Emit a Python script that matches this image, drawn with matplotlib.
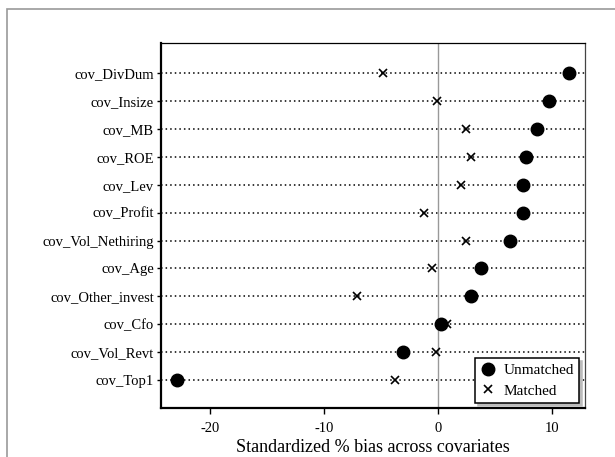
import matplotlib
matplotlib.use("Agg")
from matplotlib import pyplot as plt
from matplotlib.patches import Rectangle

plt.rcParams["font.family"] = ["Liberation Serif", "DejaVu Serif"]

#data area
covariates = ["cov_DivDum", "cov_Insize", "cov_MB", "cov_ROE", "cov_Lev", "cov_Profit",
              "cov_Vol_Nethiring", "cov_Age", "cov_Other_invest", "cov_Cfo", "cov_Vol_Revt", "cov_Top1"]
unmatched = [11.5, 9.7, 8.7, 7.7, 7.5, 7.5, 6.3, 3.8, 2.9, 0.3, -3.1, -22.9]
matched = [-4.8, -0.1, 2.5, 2.9, 2.0, -1.2, 2.5, -0.5, -7.1, 0.8, -0.2, -3.8]
xticks = [-20, -10, 0, 10]

fig = plt.figure(figsize=(6.15, 4.57), dpi=100)
ax = fig.add_axes([161/615, 1-408/457, (585-161)/615, (408-43)/457])

# outer frame of the original graph region
fig.patches.append(Rectangle((7/615, -0.1), 1.2, 1-9/457+0.1, transform=fig.transFigure,
                             fill=False, edgecolor="#999999", linewidth=1.2))

ypos = list(range(len(covariates)))[::-1]
for y in ypos:
  ax.axhline(y, color="black", linestyle=(0, (1, 2)), linewidth=1.1, zorder=1)

ax.axvline(0, color="#999999", linewidth=1.0, zorder=1)

ax.plot(unmatched, ypos, "o", color="black", markersize=9, label="Unmatched", zorder=3)
ax.plot(matched, ypos, "x", color="black", markersize=6, markeredgewidth=1.2, label="Matched", zorder=3)

ax.set_xlim(-24.3, 12.9)
ax.set_ylim(-1.0, 12.075)
ax.set_yticks(ypos)
ax.set_yticklabels(covariates, fontsize=10.5)
ax.set_xticks(xticks)
ax.set_xticklabels([str(v) for v in xticks], fontsize=10.5)
ax.tick_params(axis="x", length=4, width=1, pad=6)
ax.tick_params(axis="y", length=3, width=1, pad=2)
ax.set_xlabel("Standardized % bias across covariates", fontsize=13, labelpad=3)

ax.spines["left"].set_linewidth(1.6)
ax.spines["bottom"].set_linewidth(1.6)
ax.spines["top"].set_linewidth(0.9)
ax.spines["right"].set_linewidth(0.9)
ax.spines["right"].set_color("#444444")

leg = ax.legend(loc="lower right", fontsize=11, frameon=True, fancybox=False,
                edgecolor="black", framealpha=1, borderpad=0.35, handletextpad=0.5,
                handlelength=1.0, labelspacing=0.45, borderaxespad=0,
                bbox_to_anchor=(0.986, 0.014),
                shadow={"color": "#bbbbbb", "alpha": 1})
leg.get_frame().set_linewidth(1.1)

fig.savefig("out.png", dpi=100)
